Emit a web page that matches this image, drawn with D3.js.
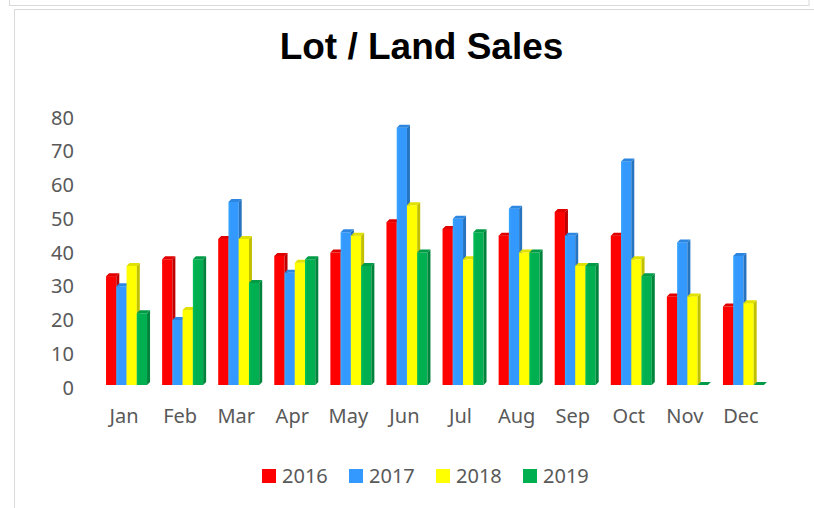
<!DOCTYPE html>
<html>
<head>
<meta charset="utf-8">
<script src="https://cdn.jsdelivr.net/npm/d3@7"></script>
<style>
  html, body { margin: 0; padding: 0; background: #fff; }
  svg { display: block; }
</style>
</head>
<body>
<svg id="chart" width="814" height="508"></svg>
<script>
const months = ["Jan","Feb","Mar","Apr","May","Jun","Jul","Aug","Sep","Oct","Nov","Dec"];
const years = ["2016","2017","2018","2019"];
const colors = ["#FF0000","#3399FF","#FFFF00","#00B050"];
const s2016 = [33,38,44,39,40,49,47,45,52,45,27,24];
const s2017 = [30,20,55,34,46,77,50,53,45,67,43,39];
const s2018 = [36,23,44,37,45,54,38,40,36,38,27,25];
const s2019 = [22,38,31,38,36,40,46,40,36,33,0,0];
const yTicks = [0,10,20,30,40,50,60,70,80];
const title = "Lot / Land Sales";

const seriesValues = [s2016, s2017, s2018, s2019];

const svg = d3.select("#chart");

// frame lines
svg.append("rect").attr("x", 9.5).attr("y", -1).attr("width", 799.5).attr("height", 6.5)
  .attr("fill", "none").attr("stroke", "#d9d9d9").attr("stroke-width", 1);
svg.append("path").attr("d", "M14.5,508 V9.5 H820")
  .attr("fill", "none").attr("stroke", "#d9d9d9").attr("stroke-width", 1);

// title
svg.append("text")
  .attr("x", 421.5).attr("y", 58.5)
  .attr("text-anchor", "middle")
  .attr("font-family", "'Liberation Sans', Arial, sans-serif")
  .attr("font-weight", "bold")
  .attr("font-size", 37)
  .attr("fill", "#000")
  .text(title);

const x = d3.scaleBand().domain(months).range([96, 769]).padding(0);
const xs = d3.scaleBand().domain(years).range([0, 41]).padding(0);
const y = d3.scaleLinear().domain([0, 80]).range([384, 114]);

const labelFont = "'Noto Sans', 'Open Sans', sans-serif";
const labelColor = "#595959";

// y tick labels
svg.append("g").selectAll("text").data(yTicks).join("text")
  .attr("x", 74)
  .attr("y", d => y(d) + 10.5)
  .attr("text-anchor", "end")
  .attr("font-family", labelFont)
  .attr("font-size", 20)
  .attr("fill", labelColor)
  .text(d => d);

// x labels
svg.append("g").selectAll("text").data(months).join("text")
  .attr("x", d => x(d) + x.bandwidth() / 2)
  .attr("y", 423)
  .attr("text-anchor", "middle")
  .attr("font-family", labelFont)
  .attr("font-size", 20)
  .attr("fill", labelColor)
  .text(d => d);

// gradients for front faces
const defs = svg.append("defs");
years.forEach((yr, i) => {
  const c = d3.color(colors[i]);
  const g = defs.append("linearGradient").attr("id", "g" + yr)
    .attr("x1", "0").attr("x2", "1").attr("y1", "0").attr("y2", "0");
  g.append("stop").attr("offset", "0%").attr("stop-color", c.brighter(0.25).formatHex());
  g.append("stop").attr("offset", "25%").attr("stop-color", c.formatHex());
  g.append("stop").attr("offset", "100%").attr("stop-color", c.formatHex());
});

// bars
const d = 3;
const base = y(0) + 1;
const bars = [];
months.forEach((m, mi) => {
  years.forEach((yr, si) => {
    bars.push({ month: m, year: yr, si: si, value: seriesValues[si][mi] });
  });
});

const gBars = svg.append("g");
const w = xs.bandwidth();
bars.forEach(b => {
  const x0 = x(b.month) + x.bandwidth() / 2 - 18 + xs(b.year);
  const top = Math.min(y(b.value) + 3.5, base);
  const c = d3.color(colors[b.si]);
  const g = gBars.append("g");
  // front
  g.append("rect")
    .attr("x", x0).attr("y", top)
    .attr("width", w).attr("height", Math.max(0, base - top))
    .attr("fill", "url(#g" + b.year + ")");
  // side
  g.append("path")
    .attr("d", `M${x0 + w},${top} L${x0 + w + d},${top - d} L${x0 + w + d},${base - d} L${x0 + w},${base} Z`)
    .attr("fill", c.darker(0.8).formatHex());
  // top cap
  g.append("path")
    .attr("d", `M${x0},${top} L${x0 + d},${top - d} L${x0 + w + d},${top - d} L${x0 + w},${top} Z`)
    .attr("fill", c.darker(0.35).formatHex());
});

// legend
const legend = svg.append("g");
const lx = d3.scaleBand().domain(years).range([262, 610]);
years.forEach((yr, i) => {
  legend.append("rect")
    .attr("x", lx(yr)).attr("y", 469)
    .attr("width", 14).attr("height", 14)
    .attr("fill", colors[i]);
  legend.append("text")
    .attr("x", lx(yr) + 20).attr("y", 483)
    .attr("font-family", labelFont)
    .attr("font-size", 20)
    .attr("fill", labelColor)
    .text(yr);
});
</script>
</body>
</html>
